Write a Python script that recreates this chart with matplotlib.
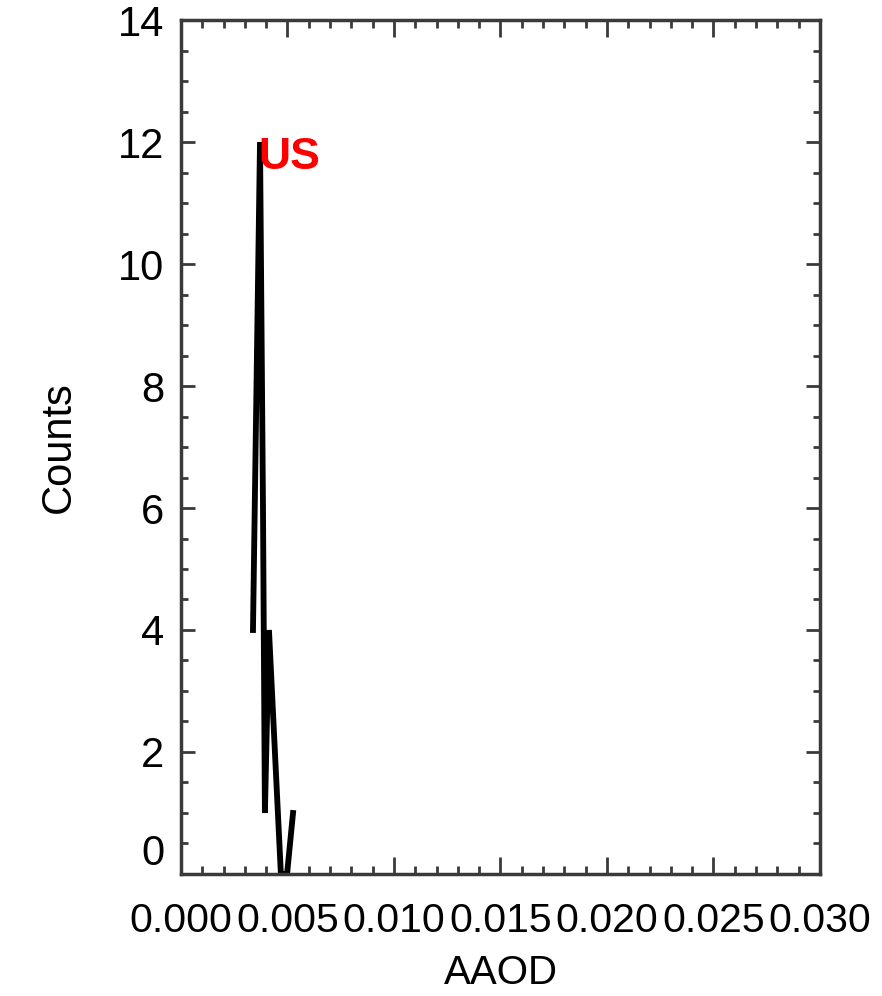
import matplotlib
matplotlib.use("Agg")
import matplotlib.pyplot as plt
from matplotlib.ticker import MultipleLocator

# Data
aaod = [0.00338, 0.00371, 0.00385, 0.00394, 0.00413, 0.00469, 0.00498, 0.00526]
counts = [4, 12, 6, 1, 4, 0, 0, 1]
xticks = [0.000, 0.005, 0.010, 0.015, 0.020, 0.025, 0.030]
xticklabels = ["0.000", "0.005", "0.010", "0.015", "0.020", "0.025", "0.030"]
yticks = [0, 2, 4, 6, 8, 10, 12, 14]
region = "US"

plt.rcParams['font.family'] = ['Liberation Sans', 'DejaVu Sans']

fig = plt.figure(figsize=(8.82, 9.96), dpi=100)
ax = fig.add_axes([0.2052, 0.1225, 0.7245, 0.8574])

ax.plot(aaod, counts, color='black', lw=4.2, solid_joinstyle='miter')

ax.set_xlim(0, 0.030)
ax.set_ylim(0, 14)
ax.set_xticks(xticks)
ax.set_xticklabels(xticklabels)
ax.set_yticks(yticks)
ax.xaxis.set_minor_locator(MultipleLocator(0.001))
ax.yaxis.set_minor_locator(MultipleLocator(0.5))

spc = '#3a3a3a'
for s in ax.spines.values():
    s.set_color(spc)
    s.set_linewidth(2.5)

ax.tick_params(axis='both', which='both', direction='in', top=True, right=True,
               color=spc, width=2)
ax.tick_params(axis='x', which='major', length=12, pad=20, labelsize=29.5)
ax.tick_params(axis='x', which='minor', length=6)
ax.tick_params(axis='y', which='major', length=10, pad=12, labelsize=30)
ax.tick_params(axis='y', which='minor', length=5)

ax.set_xlabel('AAOD', fontsize=29, labelpad=10)
ax.set_ylabel('Counts', fontsize=30, labelpad=28)

ylabs = ax.get_yticklabels()
ylabs[0].set_va('bottom')

ax.text(0.00362, 11.55, region, color='red', fontsize=32, fontweight='bold',
        ha='left', va='baseline')

fig.savefig('out.png', dpi=100, facecolor='white')
